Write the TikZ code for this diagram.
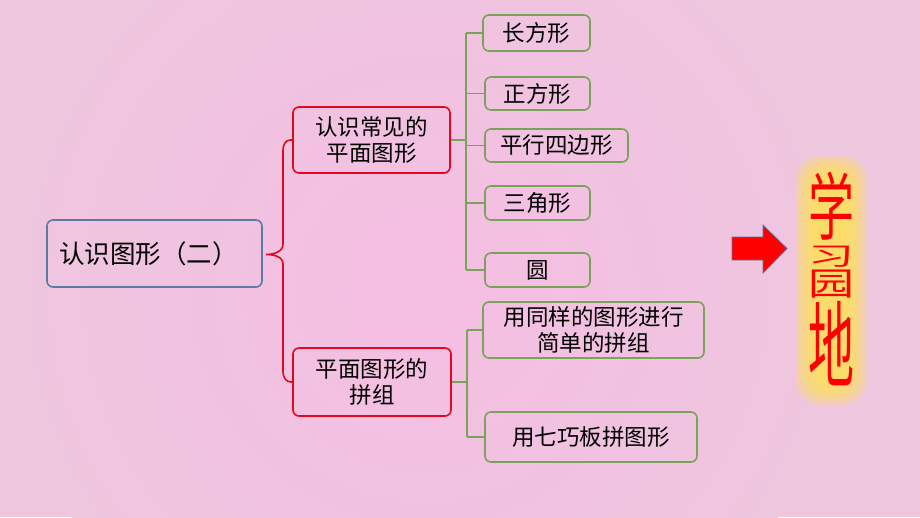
\documentclass[tikz,border=0pt]{standalone}
\usepackage{fontspec}
\setmainfont{Noto Sans CJK SC}
\usetikzlibrary{calc}
\definecolor{bgpink}{RGB}{238,198,222}
\definecolor{bgglow}{RGB}{245,190,227}
\definecolor{rootblue}{RGB}{93,122,160}
\definecolor{brred}{RGB}{226,8,30}
\definecolor{lgreen}{RGB}{122,163,90}
\definecolor{glowyel}{RGB}{255,226,90}
\definecolor{arrowedge}{RGB}{110,110,160}
\tikzset{
  basebox/.style={rounded corners=6pt, line width=1.6pt, inner sep=0pt, align=center, font=\fontsize{22.5}{26}\selectfont},
  rootbox/.style={basebox, draw=rootblue, font=\fontsize{25.5}{28}\selectfont},
  redbox/.style={basebox, draw=brred},
  greenbox/.style={basebox, draw=lgreen},
  redline/.style={draw=brred, line width=1.6pt},
  greenline/.style={draw=lgreen, line width=1.6pt},
  wordart/.style={inner sep=0pt, text=red, align=center, font=\fontsize{46}{0}\selectfont}
}
\begin{document}
\begin{tikzpicture}[x=1pt,y=-1pt]
\fill[bgpink] (0,0) rectangle (920,517);
\useasboundingbox (0,0) rectangle (920,517);
\begin{scope}
\clip (0,0) rectangle (920,517);
\shade[inner color=bgglow, outer color=bgpink] (425,290) circle (420);
\end{scope}

% root
\node[rootbox, minimum width=215pt, minimum height=67pt] (root) at (154.5,253.5) {认识图形（二）\hspace*{12pt}};
% red nodes
\node[redbox, minimum width=157pt, minimum height=66pt] (r1) at (371.5,140) {认识常见的\\平面图形};
\node[redbox, minimum width=158pt, minimum height=68pt] (r2) at (372,382) {平面图形的\\拼组};
% green nodes
\node[greenbox, minimum width=107pt, minimum height=36pt] (g1) at (536.5,33) {长方形};
\node[greenbox, minimum width=105pt, minimum height=33pt] (g2) at (537.5,93.5) {正方形};
\node[greenbox, minimum width=143pt, minimum height=33pt] (g3) at (556.5,145.5) {平行四边形};
\node[greenbox, minimum width=105pt, minimum height=34pt] (g4) at (537.5,203) {三角形};
\node[greenbox, minimum width=105pt, minimum height=34pt] (g5) at (537.5,270) {圆};
\node[greenbox, minimum width=221pt, minimum height=56pt] (g6) at (593.5,330) {用同样的图形进行\\简单的拼组};
\node[greenbox, minimum width=212pt, minimum height=50pt] (g7) at (591,437) {用七巧板拼图形};

% red brace
\coordinate (tip) at ($(root.east)+(3,1)$);
\draw[redline] (r1.west) -- ++(-2,0) to[out=180,in=90] (283,150) -- (283,244)
  to[out=-90,in=0] (tip) to[out=0,in=90] (283,264) -- (283,372)
  to[out=-90,in=180] (291,382) -- (r2.west);

% green bus upper
\coordinate (busA) at (466,0);
\draw[greenline] (r1.east) -- (r1.east -| busA);
\draw[greenline] (busA |- g1.west) -- (busA |- g5.west);
\foreach \n in {g1,g2,g3,g4,g5} \draw[greenline] (busA |- \n.west) -- (\n.west);
% green bus lower
\coordinate (busB) at (467,0);
\draw[greenline] (r2.east) -- (r2.east -| busB);
\draw[greenline] (busB |- g6.west) -- (busB |- g7.west);
\foreach \n in {g6,g7} \draw[greenline] (busB |- \n.west) -- (\n.west);

% arrow
\draw[fill=red, draw=arrowedge, line width=0.8pt, line join=miter]
  (732,237) -- (763,237) -- (763,225) -- (787,248.5) -- (763,273) -- (763,260) -- (732,260) -- cycle;

% glow
\foreach \i in {0,...,8} {
  \fill[glowyel, opacity=0.2, rounded corners=24pt]
    ($(795,155)+(\i*2.4,\i*2.4)$) rectangle ($(867,405)-(\i*2.4,\i*2.4)$);
}
% word art
\node[wordart] (wa) at (831,279) {\scalebox{1}[1.6]{学}\\[5pt]\scalebox{1}[0.55]{习}\\[2pt]\scalebox{1}[0.7]{园}\\[2pt]\scalebox{1}[2.05]{地}};
\end{tikzpicture}
\end{document}
